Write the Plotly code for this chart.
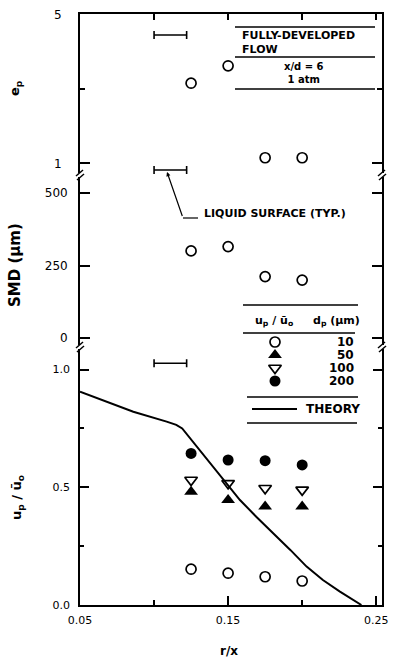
import plotly.graph_objects as go

# ---------------- data ----------------
r_x = [0.125, 0.15, 0.175, 0.2]
e_p = [3.16, 3.63, 1.15, 1.15]
smd = [300, 315, 212, 200]
u_10 = [0.152, 0.135, 0.120, 0.102]
u_50 = [0.481, 0.446, 0.418, 0.418]
u_100 = [0.531, 0.517, 0.496, 0.489]
u_200 = [0.644, 0.616, 0.613, 0.595]
theory_x = [0.05, 0.0635, 0.086, 0.1085, 0.115, 0.119, 0.1235, 0.1355, 0.147,
            0.158, 0.169, 0.1805, 0.192, 0.203, 0.214, 0.2255, 0.2365, 0.24]
theory_y = [0.906, 0.874, 0.821, 0.779, 0.765, 0.75, 0.715, 0.623, 0.531,
            0.446, 0.375, 0.305, 0.234, 0.163, 0.106, 0.057, 0.014, 0.0]
liq_lo, liq_hi = 0.1, 0.122
liq_top_y = [4.46, 0.82]   # top panel bars (e_p scale)
liq_bot_y = [1.027]        # bottom panel bar (u_p/u_o scale)

legend_sizes = ["10", "50", "100", "200"]

W, H = 394, 666
FONT = "DejaVu Sans"


def px(x):
    return x / W


def py(y):
    return 1 - y / H


fig = go.Figure()

mk_open = dict(symbol="circle-open", size=10, color="black", line=dict(width=1.7, color="black"))
mk_tri = dict(symbol="triangle-up", size=12, color="black")
mk_tri_open = dict(symbol="triangle-down-open", size=11, color="black", line=dict(width=1.7, color="black"))
mk_fill = dict(symbol="circle", size=11, color="black")

# top panel
fig.add_trace(go.Scatter(x=r_x, y=e_p, mode="markers", marker=mk_open, xaxis="x3", yaxis="y3"))
# middle panel
fig.add_trace(go.Scatter(x=r_x, y=smd, mode="markers", marker=mk_open, xaxis="x2", yaxis="y2"))
# bottom panel
fig.add_trace(go.Scatter(x=theory_x, y=theory_y, mode="lines", line=dict(color="black", width=2),
                         xaxis="x", yaxis="y"))
fig.add_trace(go.Scatter(x=r_x, y=u_10, mode="markers", marker=mk_open, xaxis="x", yaxis="y"))
fig.add_trace(go.Scatter(x=r_x, y=u_50, mode="markers", marker=mk_tri, xaxis="x", yaxis="y"))
fig.add_trace(go.Scatter(x=r_x, y=u_100, mode="markers", marker=mk_tri_open, xaxis="x", yaxis="y"))
fig.add_trace(go.Scatter(x=r_x, y=u_200, mode="markers", marker=mk_fill, xaxis="x", yaxis="y"))

# liquid surface bars
mid = (liq_lo + liq_hi) / 2
half = (liq_hi - liq_lo) / 2
for ys, xa, ya in [(liq_top_y, "x3", "y3"), (liq_bot_y, "x", "y")]:
    fig.add_trace(go.Scatter(x=[mid] * len(ys), y=ys, mode="markers",
                             marker=dict(size=1, color="rgba(0,0,0,0)"),
                             error_x=dict(type="constant", value=half, color="black",
                                          thickness=1.6, width=4),
                             xaxis=xa, yaxis=ya))

# legend key symbols on a hidden full-page pixel axis
leg_y = [342, 355, 368, 381]
for mk, yy in zip([mk_open, mk_tri, mk_tri_open, mk_fill], leg_y):
    fig.add_trace(go.Scatter(x=[275], y=[yy], mode="markers", marker=mk, xaxis="x4", yaxis="y4"))

xdom = [px(80), px(382)]
xrange = [0.05, 0.2539]
dom_top = [py(175), py(14)]
dom_mid = [py(347), py(175)]
dom_bot = [py(605), py(347)]

axcommon = dict(showgrid=False, zeroline=False, linecolor="black", linewidth=1.8,
                ticks="inside", tickcolor="black", tickwidth=1.5, automargin=False)
tickfont = dict(family=FONT, size=11, color="black")

fig.update_layout(
    width=W, height=H, margin=dict(l=0, r=0, t=0, b=0, autoexpand=False),
    paper_bgcolor="white", plot_bgcolor="rgba(0,0,0,0)", showlegend=False,
    xaxis=dict(domain=xdom, range=xrange, anchor="y", showline=True, mirror=False,
               tickvals=[0.05, 0.15, 0.25], ticktext=["0.05", "0.15", "0.25"], ticklen=9,
               minor=dict(tickvals=[0.1, 0.2], ticks="inside", ticklen=5, tickcolor="black", tickwidth=1.5),
               tickfont=tickfont, ticklabelstandoff=4, **axcommon),
    xaxis2=dict(domain=xdom, range=xrange, anchor="y2", visible=False),
    xaxis3=dict(domain=xdom, range=xrange, anchor="y3", side="top", showline=True,
                tickvals=[0.1, 0.15, 0.2, 0.25], ticklen=6, showticklabels=False, **axcommon),
    xaxis4=dict(domain=[0, 1], range=[0, W], anchor="y4", visible=False, automargin=False),
    yaxis4=dict(domain=[0, 1], range=[H, 0], anchor="x4", visible=False, automargin=False),
    yaxis=dict(domain=dom_bot, range=[0, 1.096], anchor="x", showline=True, mirror="ticks",
               tickvals=[0, 0.5, 1.0], ticktext=["0.0", "0.5", "1.0"], ticklen=9,
               minor=dict(tickvals=[0.25, 0.75], ticks="inside", ticklen=4, tickcolor="black", tickwidth=1.5),
               tickfont=tickfont, ticklabelstandoff=6, **axcommon),
    yaxis2=dict(domain=dom_mid, range=[-29.9, 560.8], anchor="x2", showline=True, mirror="ticks",
                tickvals=[0, 250, 500], ticktext=["0", "250", "500"], ticklen=10,
                tickfont=dict(family=FONT, size=12, color="black"), ticklabelstandoff=8, **axcommon),
    yaxis3=dict(domain=dom_top, range=[0.6845, 5.027], anchor="x3", showline=True, mirror="ticks",
                tickvals=[1, 5], ticktext=["1", "5"], ticklen=10,
                minor=dict(tickvals=[3], ticks="inside", ticklen=5, tickcolor="black", tickwidth=1.5),
                tickfont=dict(family=FONT, size=12, color="black"), ticklabelstandoff=14, **axcommon),
)

shapes = []
annots = []


def hline(x0, x1, y, w=1.5):
    shapes.append(dict(type="line", xref="paper", yref="paper", x0=px(x0), x1=px(x1),
                       y0=py(y), y1=py(y), line=dict(color="black", width=w)))


def seg(x0, y0, x1, y1, w=1.5):
    shapes.append(dict(type="line", xref="paper", yref="paper", x0=px(x0), x1=px(x1),
                       y0=py(y0), y1=py(y1), line=dict(color="black", width=w)))


def text(t, x, y, size=12, xanchor="center", angle=0, bold=False):
    if bold:
        t = "<b>" + t + "</b>"
    annots.append(dict(text=t, x=px(x), y=py(y), xref="paper", yref="paper", showarrow=False,
                       xanchor=xanchor, yanchor="middle", textangle=angle,
                       font=dict(family=FONT, size=size, color="black")))


# axis breaks
for bx in (80, 382):
    for by in (175, 347):
        shapes.append(dict(type="rect", xref="paper", yref="paper", x0=px(bx - 2), x1=px(bx + 2),
                           y0=py(by + 2), y1=py(by - 2), fillcolor="white", line=dict(width=0),
                           layer="above"))
        seg(bx - 4, by + 1, bx + 3, by - 5)
        seg(bx - 3, by + 5, bx + 4, by - 1)

# top-right info box
hline(235, 375, 27)
hline(235, 375, 57)
hline(235, 375, 89)
text("FULLY-DEVELOPED<br>FLOW", 240, 42, 11, "left", bold=True)
annots[-1]["align"] = "left"
text("x/d = 6<br>1 atm", 304, 73, 10, bold=True)

# legend box
hline(243, 358, 305)
hline(243, 355, 333)
hline(247, 358, 397)
hline(247, 357, 423)
text("u<sub>p</sub> / ū<sub>o</sub>", 274, 321, 11, bold=True)
text("d<sub>p</sub> (μm)", 336, 321, 11, bold=True)
for lab, yy in zip(legend_sizes, leg_y):
    text(lab, 356, yy, 12, "right", bold=True)
hline(252, 297, 409, 2)
text("THEORY", 333, 409, 12, bold=True)

# liquid surface label
seg(183, 218, 198, 218, 1.2)
annots.append(dict(x=px(167), y=py(172), xref="paper", yref="paper", ax=183 - 167, ay=218 - 172,
                   showarrow=True, arrowhead=2, arrowsize=0.7, arrowwidth=1.2, arrowcolor="black",
                   text=" ", font=dict(size=1)))
text("LIQUID SURFACE (TYP.)", 202, 214, 11, "left", bold=True)

# axis titles
text("e<sub>p</sub>", 15, 88, 13, angle=-90, bold=True)
text("SMD (μm)", 15, 265, 15, angle=-90, bold=True)
text("u<sub>p</sub> / ū<sub>o</sub>", 17, 498, 13, angle=-90, bold=True)
text("r/x", 229, 651, 12, bold=True)

fig.update_layout(shapes=shapes, annotations=annots)
fig.write_html("out.html")
